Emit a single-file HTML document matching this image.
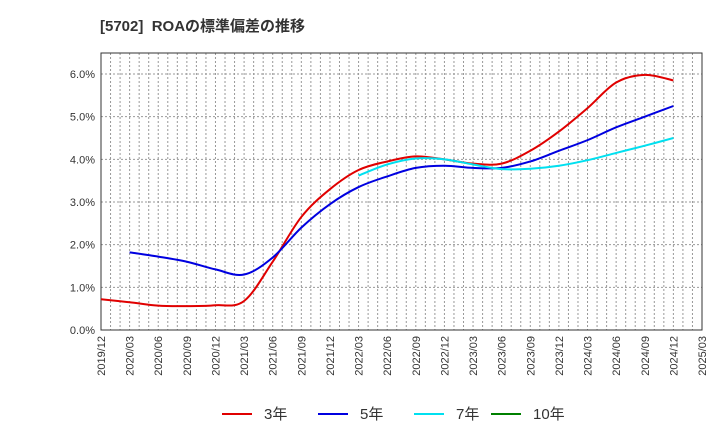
<!DOCTYPE html>
<html><head><meta charset="utf-8"><style>
body{margin:0;background:#fff;font-family:"Liberation Sans","Noto Sans CJK JP",sans-serif}
</style></head><body>
<svg width="720" height="440" xmlns="http://www.w3.org/2000/svg" font-family="Liberation Sans, Noto Sans CJK JP, sans-serif">
<text x="100" y="31" font-size="15" font-weight="bold" fill="#333" style="white-space:pre">[5702]  ROAの標準偏差の推移</text>
<g id="grid"></g>
<g id="axes"></g>
<g id="series"></g>
<g id="legend"></g>
</svg>
<script>
const xLabels=["2019/12","2020/03","2020/06","2020/09","2020/12","2021/03","2021/06","2021/09","2021/12","2022/03","2022/06","2022/09","2022/12","2023/03","2023/06","2023/09","2023/12","2024/03","2024/06","2024/09","2024/12","2025/03"];
const yTicks=[0,1,2,3,4,5,6];
const s3=[0.72,0.65,0.57,0.56,0.58,0.68,1.6,2.65,3.3,3.75,3.95,4.07,4.0,3.9,3.9,4.2,4.65,5.2,5.8,5.98,5.85];
const s5=[null,1.82,1.72,1.6,1.42,1.3,1.7,2.4,2.95,3.35,3.6,3.8,3.85,3.8,3.8,3.95,4.2,4.45,4.75,5.0,5.25];
const s7=[null,null,null,null,null,null,null,null,null,3.62,3.88,4.02,4.0,3.88,3.77,3.78,3.85,3.98,4.15,4.32,4.5];
const s10=[];
const NS="http://www.w3.org/2000/svg";
const L=101,R=702,T=53,B=330;
const xq=i=>L+(R-L)*i/21;
const yv=v=>B-v*(B-74)/6;
function mk(t,a,p){const e=document.createElementNS(NS,t);for(const k in a)e.setAttribute(k,a[k]);p.appendChild(e);return e;}
const grid=document.getElementById('grid'),axes=document.getElementById('axes'),ser=document.getElementById('series'),leg=document.getElementById('legend');
mk('rect',{x:L,y:T,width:R-L,height:B-T,fill:'#fff'},grid);
for(let m=1;m<63;m++){const x=L+(R-L)*m/63;const l=mk('line',{x1:x,x2:x,y1:T,y2:B,stroke:'#999','stroke-dasharray':'2,2','stroke-width':1},grid);}
yTicks.forEach(v=>{const y=yv(v);if(v>0){const l=mk('line',{x1:L,x2:R,y1:y,y2:y,stroke:'#999','stroke-dasharray':'2,2'},grid);}
const t=mk('text',{x:L-6,y:y+4,'text-anchor':'end','font-size':11,fill:'#333'},axes);t.textContent=v.toFixed(1)+'%';});
xLabels.forEach((s,i)=>{const x=xq(i);const t=mk('text',{x:0,y:0,transform:`translate(${x+4},336) rotate(-90)`,'text-anchor':'end','font-size':11,fill:'#333'},axes);t.textContent=s;});
const fr=mk('rect',{x:L,y:T,width:R-L,height:B-T,fill:'none',stroke:'#333','stroke-width':1},axes);

function path(arr){const p=[];arr.forEach((v,i)=>{if(v!=null)p.push([xq(i),yv(v)]);});if(p.length<2)return '';
let d=`M${p[0][0]},${p[0][1]}`;for(let i=0;i<p.length-1;i++){const p0=p[Math.max(0,i-1)],p1=p[i],p2=p[i+1],p3=p[Math.min(p.length-1,i+2)];
d+=` C${p1[0]+(p2[0]-p0[0])/6},${p1[1]+(p2[1]-p0[1])/6} ${p2[0]-(p3[0]-p1[0])/6},${p2[1]-(p3[1]-p1[1])/6} ${p2[0]},${p2[1]}`;}return d;}
[[s3,'#e00000','line-3yr'],[s5,'#0000e0','line-5yr'],[s7,'#00e0f0','line-7yr'],[s10,'#008000','line-10yr']].forEach(([a,c,n])=>{const d=path(a);if(!d)return;const e=mk('path',{d:d,fill:'none',stroke:c,'stroke-width':2},ser);});
[['3年','#e00000',222],['5年','#0000e0',318],['7年','#00e0f0',414],['10年','#008000',491]].forEach(([s,c,x])=>{const g=mk('g',{},leg);
mk('line',{x1:x,x2:x+30,y1:414,y2:414,stroke:c,'stroke-width':2},g);const t=mk('text',{x:x+42,y:419,'font-size':15,fill:'#333'},g);t.textContent=s;});
</script>
</body></html>
